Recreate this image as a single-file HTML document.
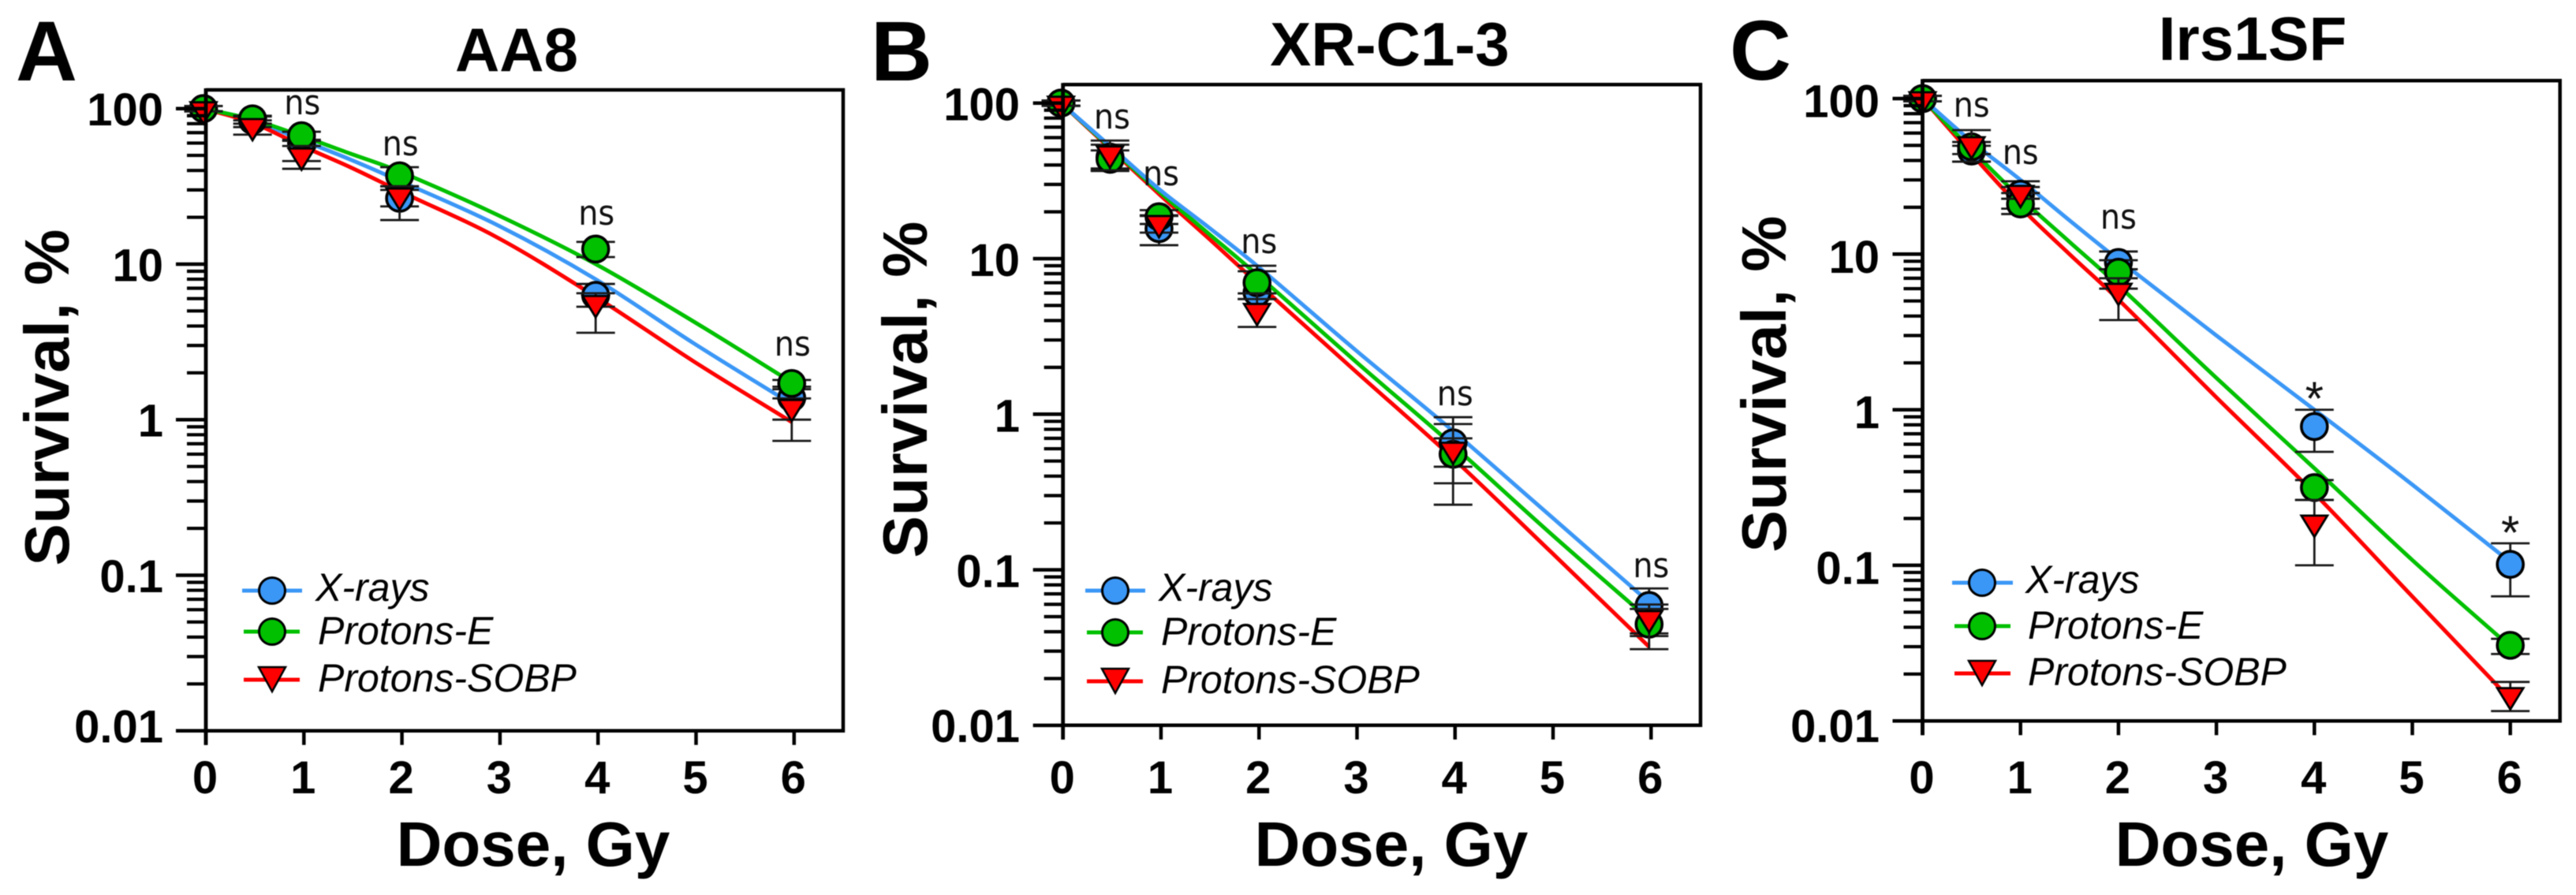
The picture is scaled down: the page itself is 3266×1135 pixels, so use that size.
<!DOCTYPE html>
<html lang="en">
<head>
<meta charset="utf-8">
<title>Clonogenic survival curves: AA8, XR-C1-3, Irs1SF</title>
<style>
html,body{margin:0;padding:0;background:#fff;}
svg{display:block;filter:blur(0.6px);font-family:"Liberation Sans",sans-serif;}
.letter{font-size:108px;font-weight:bold;}
.title{font-size:78px;font-weight:bold;text-anchor:middle;}
.axis-title{font-size:80px;font-weight:bold;text-anchor:middle;}
.tick-label{font-size:58px;font-weight:bold;}
.legend-text{font-size:50px;font-style:italic;}
.note{font-family:"DejaVu Sans",sans-serif;font-size:44px;text-anchor:middle;fill:#111;}
</style>
</head>
<body>
<svg id="figure" xmlns="http://www.w3.org/2000/svg" width="3266" height="1135" viewBox="0 0 3266 1135">
  <rect width="3266" height="1135" fill="#fff"/>

  <g id="panel-a">
    <text class="letter" x="20" y="102">A</text>
    <text class="title" x="655" y="90">AA8</text>
    <text class="axis-title" x="676" y="1098">Dose, Gy</text>
    <text class="axis-title" transform="translate(87,504) rotate(-90)">Survival, %</text>
    <g id="plot-a"></g>
    <g>
      <g>
        <line x1="307" x2="383" y1="749" y2="749" stroke="#3b97f6" stroke-width="5"/>
        <circle cx="345" cy="749" r="16.5" fill="#3b97f6" stroke="#000" stroke-width="3"/>
        <text class="legend-text" x="400" y="762">X-rays</text>
      </g>
      <g>
        <line x1="309" x2="380" y1="801" y2="801" stroke="#00c000" stroke-width="5"/>
        <circle cx="345" cy="801" r="16.5" fill="#00c000" stroke="#000" stroke-width="3"/>
        <text class="legend-text" x="403" y="817">Protons-E</text>
      </g>
      <g>
        <line x1="309" x2="380" y1="862" y2="862" stroke="#ff0000" stroke-width="5"/>
        <polygon points="328,846 362,846 345,877" fill="#ff0000" stroke="#000" stroke-width="2.5"/>
        <text class="legend-text" x="403" y="877">Protons-SOBP</text>
      </g>
    </g>
  </g>

  <g id="panel-b">
    <text class="letter" x="1104" y="102">B</text>
    <text class="title" x="1762" y="83">XR-C1-3</text>
    <text class="axis-title" x="1764" y="1098">Dose, Gy</text>
    <text class="axis-title" transform="translate(1175,494) rotate(-90)">Survival, %</text>
    <g id="plot-b"></g>
    <g>
      <g>
        <line x1="1376" x2="1452" y1="749" y2="749" stroke="#3b97f6" stroke-width="5"/>
        <circle cx="1414" cy="749" r="16.5" fill="#3b97f6" stroke="#000" stroke-width="3"/>
        <text class="legend-text" x="1469" y="762">X-rays</text>
      </g>
      <g>
        <line x1="1378" x2="1449" y1="802" y2="802" stroke="#00c000" stroke-width="5"/>
        <circle cx="1414" cy="802" r="16.5" fill="#00c000" stroke="#000" stroke-width="3"/>
        <text class="legend-text" x="1472" y="818">Protons-E</text>
      </g>
      <g>
        <line x1="1378" x2="1449" y1="864" y2="864" stroke="#ff0000" stroke-width="5"/>
        <polygon points="1397,848 1431,848 1414,879" fill="#ff0000" stroke="#000" stroke-width="2.5"/>
        <text class="legend-text" x="1472" y="879">Protons-SOBP</text>
      </g>
    </g>
  </g>

  <g id="panel-c">
    <text class="letter" x="2193" y="101">C</text>
    <text class="title" x="2856" y="76">Irs1SF</text>
    <text class="axis-title" x="2855" y="1098">Dose, Gy</text>
    <text class="axis-title" transform="translate(2264,487) rotate(-90)">Survival, %</text>
    <g id="plot-c"></g>
    <g>
      <g>
        <line x1="2475" x2="2552" y1="739" y2="739" stroke="#3b97f6" stroke-width="5"/>
        <circle cx="2513" cy="739" r="16.5" fill="#3b97f6" stroke="#000" stroke-width="3"/>
        <text class="legend-text" x="2568" y="752">X-rays</text>
      </g>
      <g>
        <line x1="2478" x2="2549" y1="794" y2="794" stroke="#00c000" stroke-width="5"/>
        <circle cx="2513" cy="794" r="16.5" fill="#00c000" stroke="#000" stroke-width="3"/>
        <text class="legend-text" x="2571" y="810">Protons-E</text>
      </g>
      <g>
        <line x1="2478" x2="2549" y1="854" y2="854" stroke="#ff0000" stroke-width="5"/>
        <polygon points="2496,838 2530,838 2513,869" fill="#ff0000" stroke="#000" stroke-width="2.5"/>
        <text class="legend-text" x="2571" y="869">Protons-SOBP</text>
      </g>
    </g>
  </g>
</svg>

<script>
/* ---------- shared axis data ---------- */
const doses = [0, 0.5, 1, 2, 4, 6];
const xTickValues = [0, 1, 2, 3, 4, 5, 6];
const yTickValues = [100, 10, 1, 0.1, 0.01];
const yTickLabels = ['100', '10', '1', '0.1', '0.01'];
const fitDoses = [0, 0.5, 1, 1.5, 2, 3, 4, 5, 6];

/* ---------- AA8 ---------- */
const aa8XraysMean  = [100, 84, 60, 26.5, 6.3, 1.38];
const aa8XraysUpper = [104, 89, 63, 30, 7.46, 1.63];
const aa8XraysLower = [96, 76, 46, 23.5, 5.32, 1.0];
const aa8XraysFit   = [100, 84.4, 62.8, 47, 34.3, 17.8, 8, 3.1, 1.26];
const aa8ProtonEMean  = [100, 86, 67, 37, 12.5, 1.71];
const aa8ProtonEUpper = [104, 90, 71, 42, 13.9, 1.8];
const aa8ProtonELower = [96, 80, 62, 31.6, 11.1, 1.57];
const aa8ProtonEFit   = [100, 85, 66.7, 51.3, 39.4, 20.7, 10, 4.27, 1.74];
const aa8SobpMean  = [100, 78, 50.4, 27.9, 5.68, 1.22];
const aa8SobpUpper = [104, 84, 57.5, 31.7, 6.5, 1.37];
const aa8SobpLower = [96, 68, 41, 19.2, 3.62, 0.73];
const aa8SobpFit   = [100, 81, 57.7, 41.9, 29.5, 14.8, 6.17, 2.37, 0.966];
const aa8NoteDoses = [1, 2, 4, 6];
const aa8NoteText  = ['ns', 'ns', 'ns', 'ns'];

/* ---------- XR-C1-3 ---------- */
const xrXraysMean  = [100, 45, 15.6, 6.05, 0.655, 0.059];
const xrXraysUpper = [104, 54, 19, 8.3, 0.957, 0.0759];
const xrXraysLower = [96, 38, 12.2, 5.5, 0.46, 0.039];
const xrXraysFit   = [100, 53, 28, 16, 9, 2.6, 0.78, 0.22, 0.062];
const xrProtonEMean  = [100, 43.5, 18.6, 7, 0.553, 0.0447];
const xrProtonEUpper = [104, 49.6, 20.5, 9, 0.865, 0.0598];
const xrProtonELower = [96, 36.6, 16.7, 5.5, 0.36, 0.0375];
const xrProtonEFit   = [100, 52, 27, 14.6, 7.9, 2.2, 0.63, 0.17, 0.048];
const xrSobpMean  = [100, 47.9, 17.1, 4.66, 0.597, 0.0494];
const xrSobpUpper = [104, 57.4, 18.8, 5.98, 0.7, 0.056];
const xrSobpLower = [96, 37, 14.7, 3.64, 0.262, 0.0309];
const xrSobpFit   = [100, 51, 26, 13.6, 7, 1.9, 0.52, 0.13, 0.032];
const xrNoteDoses = [0.5, 1, 2, 4, 6];
const xrNoteText  = ['ns', 'ns', 'ns', 'ns', 'ns'];

/* ---------- Irs1SF ---------- */
const irsXraysMean  = [100, 46, 24.3, 8.85, 0.78, 0.1014];
const irsXraysUpper = [104, 49.7, 29.4, 10.4, 1, 0.1385];
const irsXraysLower = [96, 39.3, 19.6, 8, 0.536, 0.0632];
const irsXraysFit   = [100, 53, 30, 16.5, 9.2, 3, 1, 0.33, 0.105];
const irsProtonEMean  = [100, 49, 21, 7.66, 0.316, 0.0306];
const irsProtonEUpper = [104, 52.6, 24.7, 9.14, 0.353, 0.0337];
const irsProtonELower = [96, 44, 18.1, 6, 0.263, 0.0269];
const irsProtonEFit   = [100, 47, 23, 12, 6.3, 1.6, 0.42, 0.108, 0.03];
const irsSobpMean  = [100, 51.4, 25, 5.87, 0.19, 0.0148];
const irsSobpUpper = [104, 62.7, 27, 7, 0.263, 0.0178];
const irsSobpLower = [96, 39.3, 22.7, 3.77, 0.1, 0.01156];
const irsSobpFit   = [100, 44, 20, 10, 5.1, 1.2, 0.29, 0.063, 0.0138];
const irsNoteDoses = [0.5, 1, 2, 4, 6];
const irsNoteText  = ['ns', 'ns', 'ns', '*', '*'];

/* ---------- series and panel wiring ---------- */
const NS = 'http://www.w3.org/2000/svg';
const BLUE = '#3b97f6', GREEN = '#00c000', RED = '#ff0000';

function series(slug, color, shape, mean, upper, lower, fit) {
  return { slug, color, shape, mean, upper, lower, fit };
}

const panels = [
  {
    host: 'plot-a', key: 'a',
    left: 261, right: 1069, top: 114, bottom: 926.7,
    x0: 261, xUnit: 124.3, y100: 137.7, decade: 197.25, markDx: -3,
    labelX: 207, labelDy: 21.3, lastLabelDy: 15, xLabelY: 1006,
    noteBase: [145, 197, 285, 451], noteDx: -2,
    lineOrder: ['x-rays', 'protons-sobp', 'protons-e'],
    notes: [aa8NoteDoses, aa8NoteText],
    data: [
      series('x-rays', BLUE, 'circle', aa8XraysMean, aa8XraysUpper, aa8XraysLower, aa8XraysFit),
      series('protons-e', GREEN, 'circle', aa8ProtonEMean, aa8ProtonEUpper, aa8ProtonELower, aa8ProtonEFit),
      series('protons-sobp', RED, 'triangle', aa8SobpMean, aa8SobpUpper, aa8SobpLower, aa8SobpFit)
    ]
  },
  {
    host: 'plot-b', key: 'b',
    left: 1347.7, right: 2156, top: 107.3, bottom: 919.8,
    x0: 1347.7, xUnit: 124.27, y100: 130.7, decade: 197.3, markDx: -2.5,
    labelX: 1293, labelDy: 22, lastLabelDy: 21, xLabelY: 1006,
    noteBase: [163, 235, 321, 514, 732], noteDx: 0,
    lineOrder: ['protons-sobp', 'protons-e', 'x-rays'],
    notes: [xrNoteDoses, xrNoteText],
    data: [
      series('x-rays', BLUE, 'circle', xrXraysMean, xrXraysUpper, xrXraysLower, xrXraysFit),
      series('protons-e', GREEN, 'circle', xrProtonEMean, xrProtonEUpper, xrProtonELower, xrProtonEFit),
      series('protons-sobp', RED, 'triangle', xrSobpMean, xrSobpUpper, xrSobpLower, xrSobpFit)
    ]
  },
  {
    host: 'plot-c', key: 'c',
    left: 2437.5, right: 3245.7, top: 102.3, bottom: 914.3,
    x0: 2437.5, xUnit: 124.2, y100: 125, decade: 197.3, markDx: 0,
    labelX: 2383, labelDy: 23.5, lastLabelDy: 26.7, xLabelY: 1006,
    noteBase: [148, 208, 290, 526, 696], noteDx: 0,
    lineOrder: ['protons-sobp', 'protons-e', 'x-rays'],
    notes: [irsNoteDoses, irsNoteText],
    data: [
      series('x-rays', BLUE, 'circle', irsXraysMean, irsXraysUpper, irsXraysLower, irsXraysFit),
      series('protons-e', GREEN, 'circle', irsProtonEMean, irsProtonEUpper, irsProtonELower, irsProtonEFit),
      series('protons-sobp', RED, 'triangle', irsSobpMean, irsSobpUpper, irsSobpLower, irsSobpFit)
    ]
  }
];

function make(tag, parent, props) {
  const el = document.createElementNS(NS, tag);
  for (const k in props) el.setAttribute(k, props[k]);
  parent.appendChild(el);
  return el;
}

/* Smooth path through the fit samples so the curves have no visible kinks */
function smoothPath(pts) {
  let d = 'M' + pts[0][0].toFixed(1) + ' ' + pts[0][1].toFixed(1);
  for (let i = 0; i < pts.length - 1; i++) {
    const p0 = pts[Math.max(i - 1, 0)];
    const p1 = pts[i];
    const p2 = pts[i + 1];
    const p3 = pts[Math.min(i + 2, pts.length - 1)];
    const span = p2[0] - p1[0];
    const s1 = (p2[1] - p0[1]) / (p2[0] - p0[0]);
    const s2 = (p3[1] - p1[1]) / (p3[0] - p1[0]);
    d += 'C' + (p1[0] + span / 3).toFixed(1) + ' ' + (p1[1] + s1 * span / 3).toFixed(1) +
         ' ' + (p2[0] - span / 3).toFixed(1) + ' ' + (p2[1] - s2 * span / 3).toFixed(1) +
         ' ' + p2[0].toFixed(1) + ' ' + p2[1].toFixed(1);
  }
  return d;
}

function drawPanel(p) {
  const host = document.getElementById(p.host);
  const X = d => p.x0 + d * p.xUnit;
  const Y = v => p.y100 + (2 - Math.log10(v)) * p.decade;
  const MX = d => X(d) + p.markDx;

  /* fitted curves */
  p.lineOrder.forEach(slug => {
    const s = p.data.find(item => item.slug === slug);
    const pts = fitDoses.map((d, i) => [MX(d), Y(s.fit[i])]);
    const fit = make('path', host, { d: smoothPath(pts), fill: 'none', stroke: s.color, 'stroke-width': 5, 'stroke-linejoin': 'round' });
    
    
  });

  /* error bars and markers */
  p.data.forEach(s => {
    doses.forEach((d, i) => {
      const cx = MX(d);
      const yUp = Y(s.upper[i]);
      const yLo = Y(s.lower[i]);
      const whisker = make('line', host, { x1: cx, x2: cx, y1: yUp, y2: yLo, stroke: '#1a1a1a', 'stroke-width': 2.8 });
      
      
      const capUp = make('line', host, { x1: cx - 24.5, x2: cx + 24.5, y1: yUp, y2: yUp, stroke: '#1a1a1a', 'stroke-width': 2.8 });
      
      
      const capLo = make('line', host, { x1: cx - 24.5, x2: cx + 24.5, y1: yLo, y2: yLo, stroke: '#1a1a1a', 'stroke-width': 2.8 });
      
      

      const cy = Y(s.mean[i]);
      let mark;
      if (s.shape === 'circle') {
        mark = make('circle', host, { cx: cx, cy: cy, r: 16.5, fill: s.color, stroke: '#000', 'stroke-width': 3.6 });
      } else {
        const pts = (cx - 16.5) + ',' + (cy - 8) + ' ' + (cx + 16.5) + ',' + (cy - 8) + ' ' + cx + ',' + (cy + 19);
        mark = make('polygon', host, { points: pts, fill: s.color, stroke: '#000', 'stroke-width': 2.8 });
      }
      
      
    });
  });

  /* frame */
  const frame = make('path', host, {
    d: 'M' + p.left + ' ' + p.top + 'H' + p.right + 'V' + p.bottom + 'H' + p.left,
    fill: 'none', stroke: '#000', 'stroke-width': 4.5
  });
  
  

  /* y axis */
  const yAxis = make('line', host, { x1: p.left, x2: p.left, y1: p.top - 2, y2: p.bottom + 18, stroke: '#000', 'stroke-width': 4.8 });
  
  

  yTickValues.forEach((v, i) => {
    const major = make('line', host, { x1: p.left - 38, x2: p.left, y1: Y(v), y2: Y(v), stroke: '#000', 'stroke-width': 4.5 });
    
    

    const dy = i === yTickValues.length - 1 ? p.lastLabelDy : p.labelDy;
    const label = make('text', host, { x: p.labelX, y: Y(v) + dy, 'text-anchor': 'end', class: 'tick-label' });
    label.textContent = yTickLabels[i];
    
    

    if (i < yTickValues.length - 1) {
      for (let m = 2; m <= 9; m++) {
        const yy = Y(v * m / 10);
        const minor = make('line', host, { x1: p.left - 24, x2: p.left, y1: yy, y2: yy, stroke: '#000', 'stroke-width': 4.2 });
        
        
      }
    }
  });

  /* x axis */
  xTickValues.forEach(d => {
    const tick = make('line', host, { x1: X(d), x2: X(d), y1: p.bottom, y2: p.bottom + 18, stroke: '#000', 'stroke-width': 4.5 });
    
    

    const label = make('text', host, { x: X(d) - 1, y: p.xLabelY, 'text-anchor': 'middle', class: 'tick-label' });
    label.textContent = String(d);
    
    
  });

  /* significance annotations */
  p.notes[0].forEach((d, i) => {
    const isStar = p.notes[1][i] === '*';
    const note = make('text', host, { x: X(d) + p.noteDx, y: p.noteBase[i], class: 'note' });
    if (isStar) {
      note.style.fontFamily = '"Liberation Sans", sans-serif';
      note.style.fontSize = '60px';
    } else {
      note.setAttribute('textLength', '46');
      note.setAttribute('lengthAdjust', 'spacingAndGlyphs');
    }
    note.textContent = p.notes[1][i];
    
    
  });
}

panels.forEach(drawPanel);
</script>
</body>
</html>
